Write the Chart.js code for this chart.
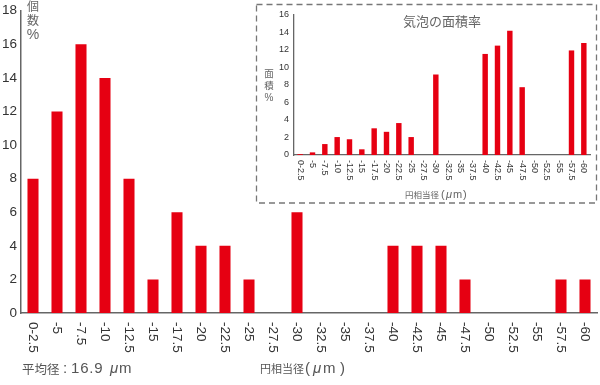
<!DOCTYPE html>
<html><head><meta charset="utf-8">
<script src="https://cdn.jsdelivr.net/npm/chart.js@4/dist/chart.umd.min.js"></script>
<style>
html,body{margin:0;padding:0;background:#fff;}
#wrap{position:relative;width:600px;height:385px;overflow:hidden;}
#main{position:absolute;left:0;top:0;}
#inset{position:absolute;left:255px;top:3px;}
</style></head><body>
<div id="wrap">
<canvas id="main" width="600" height="385"></canvas>
<canvas id="inset" width="344" height="202"></canvas>
</div>
<script>
const categories = ['0-2.5','-5','-7.5','-10','-12.5','-15','-17.5','-20','-22.5','-25','-27.5','-30','-32.5','-35','-37.5','-40','-42.5','-45','-47.5','-50','-52.5','-55','-57.5','-60'];
const countPercent = [8,12,16,14,8,2,6,4,4,2,0,6,0,0,0,4,4,4,2,0,0,0,2,2];
const areaPercent = [0.1,0.3,1.25,2.05,1.8,0.65,3.05,2.65,3.65,2.05,0,9.2,0,0,0,11.55,12.5,14.2,7.75,0,0,0,11.95,12.8];
const mainYMax = 18, mainYStep = 2;
const insetYMax = 16, insetYStep = 2;
const mainYLabel = ['個','数','%'];
const insetYLabel = ['面','積','%'];
const insetTitle = '気泡の面積率';
const xTitleJP = '円相当径';
const unit = 'μm';
const meanLabel = '平均径';
const meanValue = '16.9';

const RED = '#E60012';
const AXIS = '#666';
const LAT = '"Liberation Sans", Arial, "Noto Sans CJK JP", sans-serif';
const JP = '"Noto Sans CJK JP", "Liberation Sans", sans-serif';

function rotLabels(top, font, color){
  return { id:'rotLabels', afterDraw(chart){
    const ctx = chart.ctx, xs = chart.scales.x;
    ctx.save();
    ctx.font = font; ctx.fillStyle = color;
    ctx.textAlign = 'left'; ctx.textBaseline = 'middle';
    categories.forEach((c,i)=>{
      const x = xs.getPixelForValue(i);
      ctx.save(); ctx.translate(x, top); ctx.rotate(Math.PI/2);
      ctx.fillText(c, 0, 0); ctx.restore();
    });
    ctx.restore();
  }};
}

const mainText = { id:'mainText', afterDraw(chart){
  const ctx = chart.ctx;
  ctx.save();
  ctx.fillStyle = '#666';
  ctx.textAlign = 'center'; ctx.textBaseline = 'middle';
  ctx.font = '12px ' + JP;
  ctx.fillText(mainYLabel[0], 33, 6);
  ctx.fillText(mainYLabel[1], 33, 20);
  ctx.font = '14px ' + LAT;
  ctx.fillText(mainYLabel[2], 33, 35);
  ctx.textAlign = 'left';
  ctx.fillStyle = '#555';
  // mean diameter
  ctx.font = '12.5px ' + JP;
  ctx.fillText(meanLabel, 22, 369);
  ctx.font = '15px ' + LAT;
  ctx.fillText(':', 63, 369);
  ctx.letterSpacing = '0.8px';
  ctx.fillText(meanValue, 71, 369);
  ctx.letterSpacing = '0px';
  ctx.font = 'italic 15px ' + LAT;
  ctx.fillText(unit[0], 110, 369);
  ctx.font = '15px ' + LAT;
  ctx.fillText(unit[1], 119, 369);
  // axis title
  ctx.font = '11px ' + JP;
  ctx.fillText(xTitleJP, 260, 369);
  ctx.font = '15px ' + LAT;
  ctx.fillText('(', 305, 369);
  ctx.font = 'italic 15px ' + LAT;
  ctx.fillText(unit[0], 313, 369);
  ctx.font = '15px ' + LAT;
  ctx.fillText(unit[1], 323, 369);
  ctx.fillText(')', 340, 369);
  ctx.restore();
}};

new Chart(document.getElementById('main'), {
  type:'bar',
  data:{ labels:categories, datasets:[{ data:countPercent, backgroundColor:RED, barPercentage:0.46, categoryPercentage:1 }]},
  options:{
    responsive:false, animation:false,
    layout:{ padding:{ top:7, right:3, left:0, bottom:0 } },
    plugins:{ legend:{display:false}, tooltip:{enabled:false} },
    scales:{
      x:{ grid:{display:false, drawTicks:false}, border:{display:true, color:AXIS, width:1.5},
          ticks:{display:false}, afterFit(s){ s.height = 72; } },
      y:{ min:0, max:mainYMax, grid:{display:false, drawTicks:false},
          border:{display:true, color:AXIS, width:1.5},
          ticks:{ stepSize:mainYStep, padding:4, color:'#333', font:{ family:LAT, size:13.5, lineHeight:1 } },
          afterFit(s){ s.width = 21; } }
    }
  },
  plugins:[ rotLabels(322, '13.5px ' + LAT, '#333'), mainText ]
});

const insetDeco = { id:'insetDeco',
  beforeDraw(chart){
    const ctx = chart.ctx;
    ctx.save();
    ctx.fillStyle = '#fff';
    ctx.fillRect(0,0,chart.width,chart.height);
    ctx.strokeStyle = '#777'; ctx.lineWidth = 1.3;
    ctx.setLineDash([6,4]);
    ctx.strokeRect(1.5, 1.5, 340, 198.5);
    ctx.restore();
  },
  afterDraw(chart){
    const ctx = chart.ctx;
    ctx.save();
    ctx.fillStyle = '#666';
    ctx.textAlign = 'left'; ctx.textBaseline = 'middle';
    ctx.font = '13px ' + JP;
    ctx.fillText(insetTitle, 148, 18);
    ctx.textAlign = 'center';
    ctx.font = '9.5px ' + JP;
    ctx.fillText(insetYLabel[0], 14, 70);
    ctx.fillText(insetYLabel[1], 14, 82);
    ctx.font = '10px ' + LAT;
    ctx.fillText(insetYLabel[2], 14, 95);
    ctx.textAlign = 'left';
    ctx.font = '8.5px ' + JP;
    ctx.fillText(xTitleJP, 150, 192);
    ctx.font = '11px ' + LAT;
    ctx.fillText('(', 186, 192);
    ctx.font = 'italic 11px ' + LAT;
    ctx.fillText(unit[0], 191, 192);
    ctx.font = '11px ' + LAT;
    ctx.fillText(unit[1], 198, 192);
    ctx.fillText(')', 208, 192);
    ctx.restore();
  }
};

new Chart(document.getElementById('inset'), {
  type:'bar',
  data:{ labels:categories, datasets:[{ data:areaPercent, backgroundColor:RED, barPercentage:0.44, categoryPercentage:1 }]},
  options:{
    responsive:false, animation:false,
    layout:{ padding:{ top:12, right:9, left:0, bottom:0 } },
    plugins:{ legend:{display:false}, tooltip:{enabled:false} },
    scales:{
      x:{ grid:{display:false, drawTicks:false}, border:{display:true, color:AXIS, width:1.3},
          ticks:{display:false}, afterFit(s){ s.height = 50; } },
      y:{ min:0, max:insetYMax, grid:{display:false, drawTicks:false},
          border:{display:true, color:AXIS, width:1.3},
          ticks:{ stepSize:insetYStep, padding:5, color:'#333', font:{ family:LAT, size:9, lineHeight:1 } },
          afterFit(s){ s.width = 39; } }
    }
  },
  plugins:[ insetDeco, rotLabels(157, '9px ' + LAT, '#333') ]
});
</script>
</body></html>
